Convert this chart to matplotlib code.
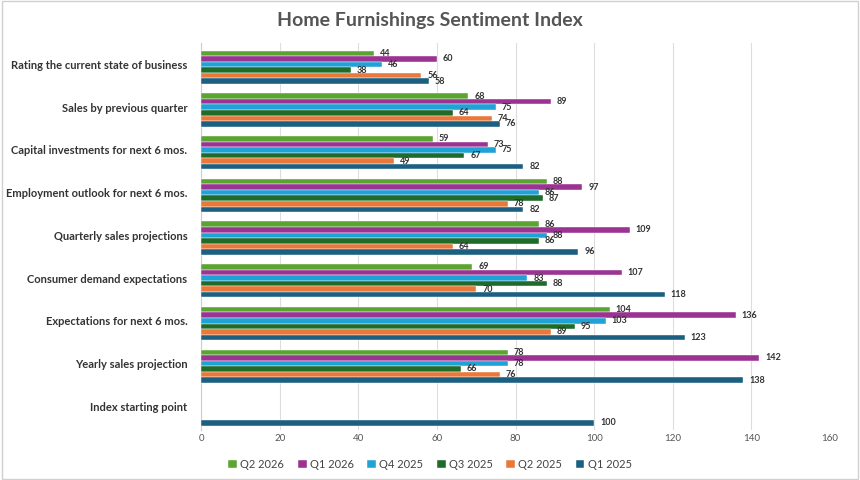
import matplotlib
matplotlib.use("Agg")
import matplotlib.pyplot as plt
import numpy as np

plt.rcParams["font.family"] = ["Lato", "DejaVu Sans"]

categories = ["Rating the current state of business", "Sales by previous quarter",
              "Capital investments for next 6 mos.", "Employment outlook for next 6 mos.",
              "Quarterly sales projections", "Consumer demand expectations",
              "Expectations for next 6 mos.", "Yearly sales projection", "Index starting point"]
series = ["Q2 2026", "Q1 2026", "Q4 2025", "Q3 2025", "Q2 2025", "Q1 2025"]
colors = ["#5aa532", "#9b3393", "#1fa2d6", "#1e6b2a", "#e9793a", "#1c5f80"]
q2_2026 = [44, 68, 59, 88, 86, 69, 104, 78, None]
q1_2026 = [60, 89, 73, 97, 109, 107, 136, 142, None]
q4_2025 = [46, 75, 75, 86, 88, 83, 103, 78, None]
q3_2025 = [38, 64, 67, 87, 86, 88, 95, 66, None]
q2_2025 = [56, 74, 49, 78, 64, 70, 89, 76, None]
q1_2025 = [58, 76, 82, 82, 96, 118, 123, 138, 100]
data = [q2_2026, q1_2026, q4_2025, q3_2025, q2_2025, q1_2025]

fig = plt.figure(figsize=(8.6, 4.8), dpi=100)
ax = fig.add_axes([0.234, 0.105, 0.731, 0.805])
h = 0.13
for j, (name, vals, c) in enumerate(zip(series, data, colors)):
    ys = []; xs = []
    for i, v in enumerate(vals):
        if v is None: continue
        ys.append(i - 0.325 + j * h + h / 2); xs.append(v)
    ax.barh(ys, xs, height=h, color=c, label=name, zorder=3, edgecolor="white", linewidth=0.3)
    for y, x in zip(ys, xs):
        ax.text(x + 1.5, y, str(x), va="center", ha="left", fontsize=6.5,
                fontweight="bold", color="#333333", zorder=4)
ax.set_ylim(8.55, -0.5)
ax.set_xlim(0, 160)
ax.set_xticks(range(0, 161, 20))
ax.set_yticks(range(len(categories)))
ax.set_yticklabels(categories, fontsize=8, fontweight="bold", color="#333333")
ax.tick_params(axis="x", labelsize=7, colors="#555555", length=0)
ax.tick_params(axis="y", length=0, pad=10)
ax.grid(axis="x", color="#dddddd", linewidth=0.8, zorder=0)
for s in ["top", "right", "bottom"]:
    ax.spines[s].set_visible(False)
ax.spines["left"].set_color("#cccccc")
fig.suptitle("Home Furnishings Sentiment Index", y=0.975, fontsize=14,
             fontweight="bold", color="#555555")
fig.legend(loc="lower center", ncol=6, frameon=False, fontsize=8, bbox_to_anchor=(0.5, 0.0),
           handlelength=0.8, handleheight=0.8, columnspacing=1.2, handletextpad=0.3,
           labelcolor="#444444")
fig.patches.append(plt.Rectangle((0.002, 0.002), 0.996, 0.996, transform=fig.transFigure,
                                 fill=False, edgecolor="#d0d0d0", linewidth=1))
fig.savefig("out.png", dpi=100)
